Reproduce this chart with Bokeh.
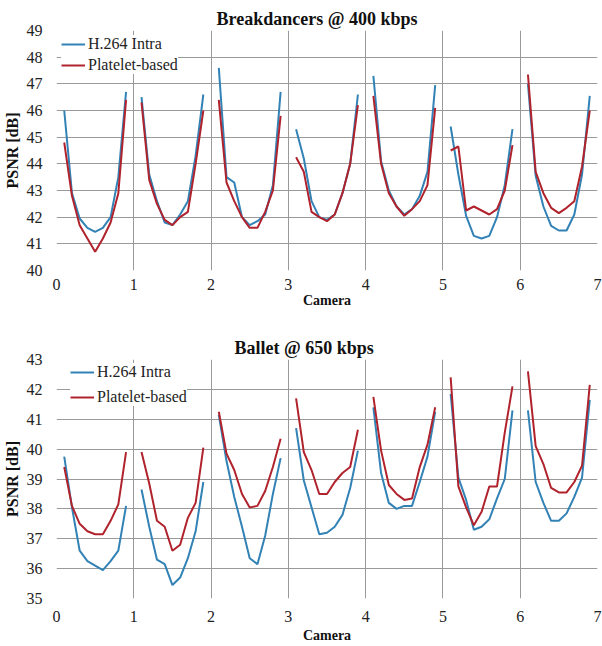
import numpy as np
from bokeh.plotting import figure
from bokeh.layouts import column
from bokeh.models import Range1d, FixedTicker, Legend, LegendItem
from bokeh.embed import file_html
from bokeh.resources import INLINE

cameras = [0, 1, 2, 3, 4, 5, 6]
offsets = [0.1, 0.2, 0.3, 0.4, 0.5, 0.6, 0.7, 0.8, 0.9]

# Breakdancers @ 400 kbps, PSNR per camera segment
bd_h264 = [
    [46.0, 42.9, 41.95, 41.6, 41.45, 41.6, 42.0, 43.5, 46.7],
    [46.5, 43.6, 42.6, 41.8, 41.7, 42.1, 42.6, 44.3, 46.6],
    [47.6, 43.5, 43.3, 42.0, 41.7, 41.85, 42.1, 43.2, 46.7],
    [45.3, 44.2, 42.6, 42.0, 41.9, 42.1, 42.9, 44.0, 46.6],
    [47.3, 44.1, 43.0, 42.4, 42.1, 42.3, 42.8, 43.7, 46.95],
    [45.4, 43.6, 42.05, 41.3, 41.2, 41.3, 42.0, 43.2, 45.3],
    [47.0, 43.55, 42.4, 41.67, 41.5, 41.5, 42.1, 43.6, 46.55],
]
bd_platelet = [
    [44.8, 42.8, 41.7, 41.2, 40.7, 41.2, 41.8, 42.9, 46.4],
    [46.3, 43.4, 42.5, 41.9, 41.7, 42.0, 42.2, 44.0, 46.0],
    [46.4, 43.3, 42.6, 42.0, 41.6, 41.6, 42.2, 43.0, 45.8],
    [44.25, 43.7, 42.2, 42.0, 41.85, 42.1, 42.9, 44.0, 46.2],
    [46.55, 44.0, 42.9, 42.4, 42.05, 42.3, 42.6, 43.2, 46.1],
    [44.5, 44.65, 42.25, 42.4, 42.25, 42.1, 42.3, 43.0, 44.7],
    [47.35, 43.7, 42.9, 42.35, 42.15, 42.35, 42.6, 43.9, 46.0],
]

# Ballet @ 650 kbps
ba_h264 = [
    [39.75, 38.05, 36.6, 36.25, 36.1, 35.95, 36.25, 36.6, 38.1],
    [38.65, 37.4, 36.3, 36.15, 35.45, 35.7, 36.35, 37.25, 38.9],
    [41.15, 39.6, 38.4, 37.4, 36.35, 36.15, 37.1, 38.5, 39.7],
    [40.7, 38.95, 38.05, 37.15, 37.2, 37.4, 37.8, 38.7, 39.95],
    [41.4, 39.2, 38.2, 38.0, 38.1, 38.1, 38.9, 39.75, 41.25],
    [41.85, 39.05, 38.3, 37.3, 37.4, 37.65, 38.35, 39.0, 41.3],
    [41.3, 38.9, 38.2, 37.6, 37.6, 37.85, 38.4, 39.05, 41.65],
]
ba_platelet = [
    [39.4, 38.1, 37.5, 37.25, 37.15, 37.15, 37.6, 38.15, 39.9],
    [39.9, 38.85, 37.6, 37.4, 36.6, 36.8, 37.7, 38.2, 40.05],
    [41.25, 39.85, 39.3, 38.5, 38.05, 38.1, 38.6, 39.4, 40.35],
    [41.7, 39.9, 39.3, 38.5, 38.5, 38.9, 39.2, 39.4, 40.65],
    [41.75, 39.95, 38.8, 38.5, 38.3, 38.35, 39.4, 40.15, 41.4],
    [42.4, 38.75, 38.05, 37.45, 37.9, 38.75, 38.75, 40.55, 42.1],
    [42.6, 40.1, 39.5, 38.7, 38.55, 38.55, 38.9, 39.45, 42.15],
]

series_names = ["H.264 Intra", "Platelet-based"]
BLUE = "#3282b6"
RED = "#b0222c"
SERIF = "Liberation Serif"


def seg_xs():
    return [[c + o for o in offsets] for c in cameras]


def make_fig(title, ymin, ymax, blue_data, red_data, height, top_border, bottom_border,
             title_offset, tick_standoff, label_standoff, leg_location, leg_spacing):
    p = figure(width=602, height=height, output_backend="svg", toolbar_location=None,
               x_range=Range1d(0, 7), y_range=Range1d(ymin, ymax),
               min_border_left=53, min_border_right=5, min_border_top=top_border,
               min_border_bottom=bottom_border)
    p.title.text = title
    p.title.align = "left"
    p.title.offset = title_offset
    p.title.text_font = SERIF
    p.title.text_font_size = "18px"
    p.title.text_font_style = "bold"
    p.title.text_color = "#111111"
    p.title.standoff = 4
    p.outline_line_color = None

    xs = seg_xs()
    r1 = p.multi_line(xs=xs, ys=blue_data, line_color=BLUE, line_width=2)
    r2 = p.multi_line(xs=xs, ys=red_data, line_color=RED, line_width=2)

    for ax in (p.xaxis[0], p.yaxis[0]):
        ax.axis_line_color = None
        ax.major_tick_line_color = None
        ax.minor_tick_line_color = None
        ax.major_label_text_font = SERIF
        ax.major_label_text_font_size = "16px"
        ax.major_label_text_color = "#222222"
        ax.axis_label_text_font = SERIF
        ax.axis_label_text_font_style = "bold"
        ax.axis_label_text_color = "#111111"
    p.xaxis.ticker = FixedTicker(ticks=list(range(0, 8)))
    p.yaxis.ticker = FixedTicker(ticks=list(range(ymin, ymax + 1)))
    p.xaxis.axis_label = "Camera"
    p.xaxis.axis_label_text_font_size = "14px"
    p.xaxis.axis_label_standoff = label_standoff
    p.xaxis.major_label_standoff = tick_standoff
    p.yaxis.axis_label = "PSNR [dB]"
    p.yaxis.axis_label_text_font_size = "16px"
    p.yaxis.axis_label_standoff = 3
    p.yaxis.major_label_standoff = 8

    p.xgrid.grid_line_color = "#9a9a9a"
    p.ygrid.grid_line_color = "#9a9a9a"
    p.xgrid.grid_line_width = 1
    p.ygrid.grid_line_width = 1

    legend = Legend(items=[LegendItem(label=series_names[0], renderers=[r1]),
                           LegendItem(label=series_names[1], renderers=[r2])],
                    location=leg_location)
    legend.label_text_font = SERIF
    legend.label_text_font_size = "16px"
    legend.label_text_color = "#222222"
    legend.border_line_color = None
    legend.background_fill_color = "white"
    legend.background_fill_alpha = 1.0
    legend.glyph_width = 24
    legend.glyph_height = 16
    legend.label_standoff = 3
    legend.spacing = leg_spacing
    legend.padding = 3
    legend.margin = 5
    legend.label_height = 17
    p.add_layout(legend)
    return p


p1 = make_fig("Breakdancers @ 400 kbps", 40, 49, bd_h264, bd_platelet, 310, 30, 40,
              160, 2, 0, "top_left", 3)
p2 = make_fig("Ballet @ 650 kbps", 35, 43, ba_h264, ba_platelet, 336, 49, 48,
              178, 6, 3, (14, 192), 7)

layout = column(p1, p2, spacing=0)
open("out.html", "w").write(file_html(layout, INLINE))
